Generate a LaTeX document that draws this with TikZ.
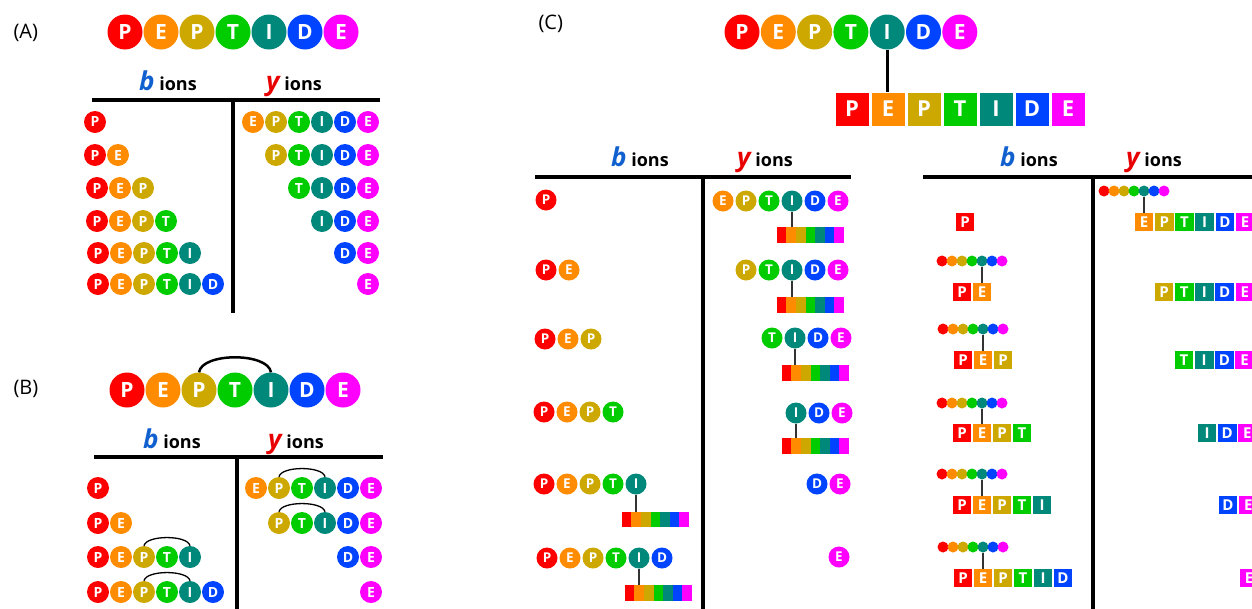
\documentclass[tikz,border=0pt]{standalone}
\usepackage{fontspec}
\setmainfont{Open Sans}
\definecolor{pc1}{HTML}{FF0000}
\definecolor{pc2}{HTML}{FF8C00}
\definecolor{pc3}{HTML}{CCA800}
\definecolor{pc4}{HTML}{00CC00}
\definecolor{pc5}{HTML}{00887A}
\definecolor{pc6}{HTML}{0044FF}
\definecolor{pc7}{HTML}{FF00FF}
\definecolor{bblue}{HTML}{1060D0}
\definecolor{yred}{HTML}{E80000}
\definecolor{linkgray}{HTML}{333333}
\newcommand\pepletter[1]{\ifcase#1\or P\or E\or P\or T\or I\or D\or E\fi}
\newcommand\pepline[7]{\foreach \k in {#2,...,#3}{\node[#7,fill=pc\k] (#1-\k) at ({#4+(\k-#2)*#6},#5) {\pepletter{\k}};}}
\newcommand\rbar[4]{\foreach \k in {1,...,7}{\node[barcell,fill=pc\k,minimum height=#4] (#1-\k) at ({#2+(\k-0.5)*9.57},#3) {};}}
\newcommand\brow[3]{\foreach \k in {1,...,7}{\node[beadt,fill=pc\k] (#1-\k) at ({#2+(\k-1)*10},#3) {};}}
\newcommand\bion{\textcolor{bblue}{\fontsize{26}{26}\selectfont\itshape b} ions}
\newcommand\yion{\textcolor{yred}{\fontsize{26}{26}\selectfont\itshape y} ions}
\tikzset{
 big/.style={circle,inner sep=0pt,minimum size=35pt,text=white,font=\bfseries\fontsize{21}{21}\selectfont},
 sml/.style={circle,inner sep=0pt,minimum size=22pt,text=white,font=\bfseries\fontsize{14}{14}\selectfont},
 smc/.style={circle,inner sep=0pt,minimum size=21pt,text=white,font=\bfseries\fontsize{13.5}{14}\selectfont},
 bigsq/.style={rectangle,inner sep=0pt,minimum size=33pt,text=white,font=\bfseries\fontsize{22}{22}\selectfont},
 smsq/.style={rectangle,inner sep=0pt,minimum size=18.6pt,text=white,font=\bfseries\fontsize{15}{15}\selectfont},
 barcell/.style={rectangle,inner sep=0pt,minimum width=9.75pt},
 beadt/.style={circle,inner sep=0pt,minimum size=11pt},
 rule/.style={line width=3.5pt},
 link/.style={line width=1.7pt,draw=linkgray},
 biglink/.style={line width=3pt},
 arcb/.style={line width=2.5pt},
 arcs/.style={line width=1.3pt},
 lab/.style={anchor=west,font=\fontsize{20}{20}\selectfont},
 hdr/.style={anchor=base west,inner sep=0pt,font=\bfseries\fontsize{18}{18}\selectfont},
}
\begin{document}
\begin{tikzpicture}[x=1pt,y=-1pt]
\useasboundingbox (0,0) rectangle (1252,608);
\clip (0,0) rectangle (1252,608);
% ---------------- Panel A
\node[lab] (labA) at (10,33) {(A)};
\pepline{At}{1}{7}{125}{32}{36}{big}
\node[hdr] (Ahb) at (139,90) {\bion};
\node[hdr] (Ahy) at (266,90) {\yion};
\coordinate (Ahl) at (92,100); \coordinate (Ahr) at (380,100);
\coordinate (Avt) at (233,100); \coordinate (Avb) at (233,313);
\draw[rule] (Ahl) -- (Ahr);
\draw[rule] (Avt) -- (Avb);
\pepline{Ab1}{1}{1}{95}{122}{23}{sml}
\pepline{Ab2}{1}{2}{95}{155}{23}{sml}
\pepline{Ab3}{1}{3}{97}{188}{23}{sml}
\pepline{Ab4}{1}{4}{97}{221}{23}{sml}
\pepline{Ab5}{1}{5}{98}{253}{23}{sml}
\pepline{Ab6}{1}{6}{98}{284}{23}{sml}
\pepline{Ay1}{2}{7}{253}{122}{23}{sml}
\pepline{Ay2}{3}{7}{276}{155}{23}{sml}
\pepline{Ay3}{4}{7}{299}{188}{23}{sml}
\pepline{Ay4}{5}{7}{322}{221}{23}{sml}
\pepline{Ay5}{6}{7}{345}{253}{23}{sml}
\pepline{Ay6}{7}{7}{368}{284}{23}{sml}
% ---------------- Panel B
\node[lab] (labB) at (10,389) {(B)};
\pepline{Bt}{1}{7}{127}{390}{36}{big}
\draw[arcb] (Bt-3.north) .. controls +(3,-20) and +(-3,-20) .. (Bt-5.north);
\node[hdr] (Bhb) at (143,448) {\bion};
\node[hdr] (Bhy) at (268,448) {\yion};
\coordinate (Bhl) at (94,457); \coordinate (Bhr) at (383,457);
\coordinate (Bvt) at (237,457); \coordinate (Bvb) at (237,610);
\draw[rule] (Bhl) -- (Bhr);
\draw[rule] (Bvt) -- (Bvb);
\pepline{Bb1}{1}{1}{98}{488}{23}{sml}
\pepline{Bb2}{1}{2}{98}{523}{23}{sml}
\pepline{Bb3}{1}{5}{98}{557}{23}{sml}
\pepline{Bb4}{1}{6}{98}{592}{23}{sml}
\pepline{By1}{2}{7}{256}{488}{23}{sml}
\pepline{By2}{3}{7}{279}{523}{23}{sml}
\pepline{By3}{6}{7}{348}{557}{23}{sml}
\pepline{By4}{7}{7}{371}{592}{23}{sml}
\foreach \r in {Bb3,Bb4,By1,By2}{
  \draw[arcs] (\r-3.north) .. controls +(2,-11) and +(-2,-11) .. (\r-5.north);}
% ---------------- Panel C
\node[lab] (labC) at (535,24) {(C)};
\pepline{Ct}{1}{7}{742}{32}{36.3}{big}
\pepline{Cs}{1}{7}{852}{109}{36}{bigsq}
\draw[biglink] (Ct-5.south) -- (Ct-5.south |- Cs-2.north);
% left table
\node[hdr] (Chb) at (611,166) {\bion};
\node[hdr] (Chy) at (737,166) {\yion};
\coordinate (Chl) at (535,177); \coordinate (Chr) at (851,177);
\coordinate (Cvt) at (703,177); \coordinate (Cvb) at (703,610);
\draw[rule] (Chl) -- (Chr);
\draw[rule] (Cvt) -- (Cvb);
\pepline{Cb1}{1}{1}{546}{200}{23}{smc}
\pepline{Cb2}{1}{2}{546}{270}{23}{smc}
\pepline{Cb3}{1}{3}{545}{339}{23}{smc}
\pepline{Cb4}{1}{4}{544}{412}{23}{smc}
\pepline{Cb5}{1}{5}{544}{484}{23}{smc}
\rbar{Cb5r}{622}{519.5}{15pt}
\draw[link] (Cb5-5.south) -- (Cb5-5.south |- Cb5r-2.north);
\pepline{Cb6}{1}{6}{547}{558}{23}{smc}
\rbar{Cb6r}{625}{593}{16pt}
\draw[link] (Cb6-5.south) -- (Cb6-5.south |- Cb6r-2.north);
\pepline{Cy1}{2}{7}{723}{201}{23}{smc}
\rbar{Cy1r}{777}{235}{16pt}
\draw[link] (Cy1-5.south) -- (Cy1-5.south |- Cy1r-2.north);
\pepline{Cy2}{3}{7}{746}{270}{23}{smc}
\rbar{Cy2r}{777}{305}{16pt}
\draw[link] (Cy2-5.south) -- (Cy2-5.south |- Cy2r-2.north);
\pepline{Cy3}{4}{7}{772}{338}{23}{smc}
\rbar{Cy3r}{782}{373}{16pt}
\draw[link] (Cy3-5.south) -- (Cy3-5.south |- Cy3r-2.north);
\pepline{Cy4}{5}{7}{796}{413}{23}{smc}
\rbar{Cy4r}{782}{446}{16pt}
\draw[link] (Cy4-5.south) -- (Cy4-5.south |- Cy4r-2.north);
\pepline{Cy5}{6}{7}{817}{484}{23}{smc}
\pepline{Cy6}{7}{7}{839}{557}{23}{smc}
% right table
\node[hdr] (Rhb) at (1000,166) {\bion};
\node[hdr] (Rhy) at (1126,166) {\yion};
\coordinate (Rhl) at (923,177); \coordinate (Rhr) at (1260,177);
\coordinate (Rvt) at (1093,177); \coordinate (Rvb) at (1093,610);
\draw[rule] (Rhl) -- (Rhr);
\draw[rule] (Rvt) -- (Rvb);
\pepline{Rb1}{1}{1}{965}{222}{20}{smsq}
\brow{Rb2d}{942}{261}
\pepline{Rb2}{1}{2}{962}{292}{20}{smsq}
\draw[link] (Rb2d-5.south) -- (Rb2d-5.south |- Rb2-2.north);
\brow{Rb3d}{943}{329}
\pepline{Rb3}{1}{3}{963}{360}{20}{smsq}
\draw[link] (Rb3d-5.south) -- (Rb3d-5.south |- Rb3-2.north);
\brow{Rb4d}{942}{403}
\pepline{Rb4}{1}{4}{962}{433}{20}{smsq}
\draw[link] (Rb4d-5.south) -- (Rb4d-5.south |- Rb4-2.north);
\brow{Rb5d}{942}{474}
\pepline{Rb5}{1}{5}{962}{505}{20}{smsq}
\draw[link] (Rb5d-5.south) -- (Rb5d-5.south |- Rb5-2.north);
\brow{Rb6d}{943}{547}
\pepline{Rb6}{1}{6}{963}{578}{20}{smsq}
\draw[link] (Rb6d-5.south) -- (Rb6d-5.south |- Rb6-2.north);
\brow{Ry1d}{1104}{191}
\pepline{Ry1}{2}{7}{1144}{222}{20.2}{smsq}
\draw[link] (Ry1d-5.south) -- (Ry1d-5.south |- Ry1-2.north);
\pepline{Ry2}{3}{7}{1164}{292}{20.2}{smsq}
\pepline{Ry3}{4}{7}{1184}{360}{20.2}{smsq}
\pepline{Ry4}{5}{7}{1207}{433}{20.2}{smsq}
\pepline{Ry5}{6}{7}{1228}{505}{20.2}{smsq}
\pepline{Ry6}{7}{7}{1249}{578}{20.2}{smsq}
\end{tikzpicture}
\end{document}
